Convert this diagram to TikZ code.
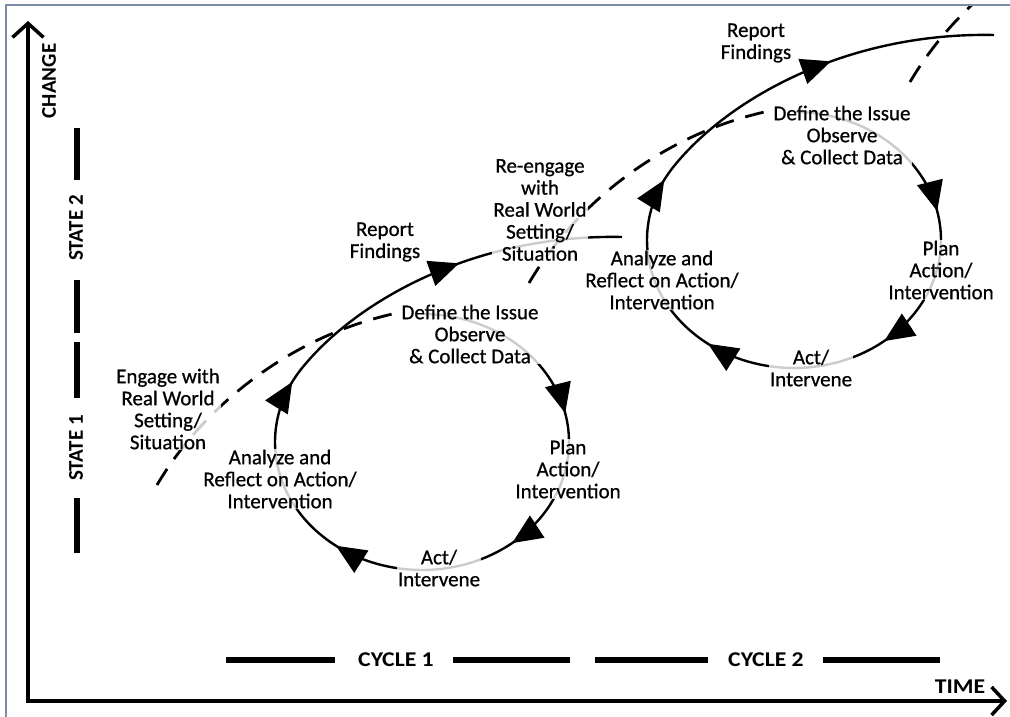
\documentclass[tikz,border=0pt]{standalone}
\usepackage{fontspec}
\setmainfont{Carlito}
\newfontfamily\lblfont{Carlito}[FakeBold=0.7]
\newfontfamily\hdwide{Carlito}[FakeStretch=1.13]
\usetikzlibrary{arrows.meta,decorations.markings}
\definecolor{framec}{RGB}{125,140,165}
\tikzset{
  lbl/.style={align=center, font=\fontsize{21}{22}\lblfont, fill=white, fill opacity=0.8, text opacity=1, inner sep=1pt},
  hd/.style={font=\fontsize{21}{22}\selectfont\bfseries, inner sep=0pt},
  hdw/.style={font=\fontsize{21}{22}\hdwide\bfseries, inner sep=0pt},
  cyc/.style={line width=2.4pt, line join=round},
  dsh/.style={line width=2.8pt, dash pattern=on 19pt off 12pt},
  axisline/.style={line width=3.5pt},
  barline/.style={line width=6pt},
  tri/.tip={Triangle[length=30pt,width=26pt]},
  loopmarks/.style={postaction={decorate}, decoration={markings,
    mark=at position 187pt with {\arrow{tri}},
    mark=at position 337pt with {\arrow{tri}},
    mark=at position 523pt with {\arrow{tri}},
    mark=at position 712pt with {\arrow{tri}},
    mark=at position 920pt with {\arrow{tri}}}}
}
\begin{document}
\begin{tikzpicture}[x=1pt,y=-1pt]
\useasboundingbox (0,0) rectangle (1010,717);
% frame
\coordinate (F1) at (6,717); \coordinate (F2) at (6,5); \coordinate (F3) at (1010,5);
\draw[framec, line width=1.6pt] (F1) -- (F2) -- (F3);
% axes
\coordinate (O) at (28,701); \coordinate (Yt) at (28,21); \coordinate (Xt) at (1007,701);
\draw[axisline, {Straight Barb[length=14pt,width=31pt]}-{Straight Barb[length=13pt,width=28pt]}] (Yt) -- (O) -- (Xt);
% cycle 1
\draw[cyc, loopmarks] plot[domain=90:-215, samples=160] ({422+147*cos(\x)},{442-128*sin(\x)}) .. controls (358,298.5) and (478,234) .. (622,237) coordinate (c1end);
\draw[dsh] (157,485) coordinate (d1s) .. controls (202.6,407.4) and (289.4,336.1) .. (397,313) coordinate (d1e);
% cycle 2
\begin{scope}[shift={(372,-202)}]
\draw[cyc, loopmarks] plot[domain=90:-215, samples=160] ({422+147*cos(\x)},{442-128*sin(\x)}) .. controls (358,298.5) and (478,234) .. (622,237) coordinate (c2end);
\draw[dsh] (157,485) coordinate (d2s) .. controls (202.6,407.4) and (289.4,336.1) .. (397,313) coordinate (d2e);
\end{scope}
% next cycle (cut off)
\begin{scope}
\clip (7,7) rectangle (1010,717);
\begin{scope}[shift={(753,-403)}]
\draw[dsh] (157,485) coordinate (d3s) .. controls (202.6,407.4) and (289.4,336.1) .. (397,313) coordinate (d3e);
\end{scope}
\end{scope}
% labels
\node[lbl] (eng1) at (168,409) {Engage with\\Real World\\Setting/\\Situation};
\node[lbl] (rep1) at (385,242) {Report\\Findings};
\node[lbl] (def1) at (470,334) {Define the Issue\\Observe\\\& Collect Data};
\node[lbl] (plan1) at (568,469) {Plan\\Action/\\Intervention};
\node[lbl] (act1) at (439,568) {Act/\\Intervene};
\node[lbl] (ana1) at (280,479) {Analyze and\\Reflect on Action/\\Intervention};
\node[lbl] (reeng) at (540,210) {Re-engage\\with\\Real World\\Setting/\\Situation};
\node[lbl] (rep2) at (756,43) {Report\\Findings};
\node[lbl] (def2) at (842,135) {Define the Issue\\Observe\\\& Collect Data};
\node[lbl] (plan2) at (941,270) {Plan\\Action/\\Intervention};
\node[lbl] (act2) at (811,368) {Act/\\Intervene};
\node[lbl] (ana2) at (662,280) {Analyze and\\Reflect on Action/\\Intervention};
% headers
\node[hd, rotate=90] (chg) at (49,81) {CHANGE};
\node[hd, rotate=90] (st2) at (76,228) {STATE 2};
\node[hd, rotate=90] (st1) at (76,448) {STATE 1};
\node[hdw] (cy1) at (396,660) {CYCLE 1};
\node[hdw] (cy2) at (766,660) {CYCLE 2};
\node[hdw] (tm) at (960,687) {TIME};
% state / cycle bars
\draw[barline] (77,128) -- (77,180);
\draw[barline] (77,280) -- (77,333);
\draw[barline] (77,342) -- (77,398);
\draw[barline] (77,498) -- (77,553);
\draw[barline] (226,660) -- (335,660);
\draw[barline] (453,660) -- (570,660);
\draw[barline] (595,660) -- (708,660);
\draw[barline] (823,660) -- (940,660);
\end{tikzpicture}
\end{document}
